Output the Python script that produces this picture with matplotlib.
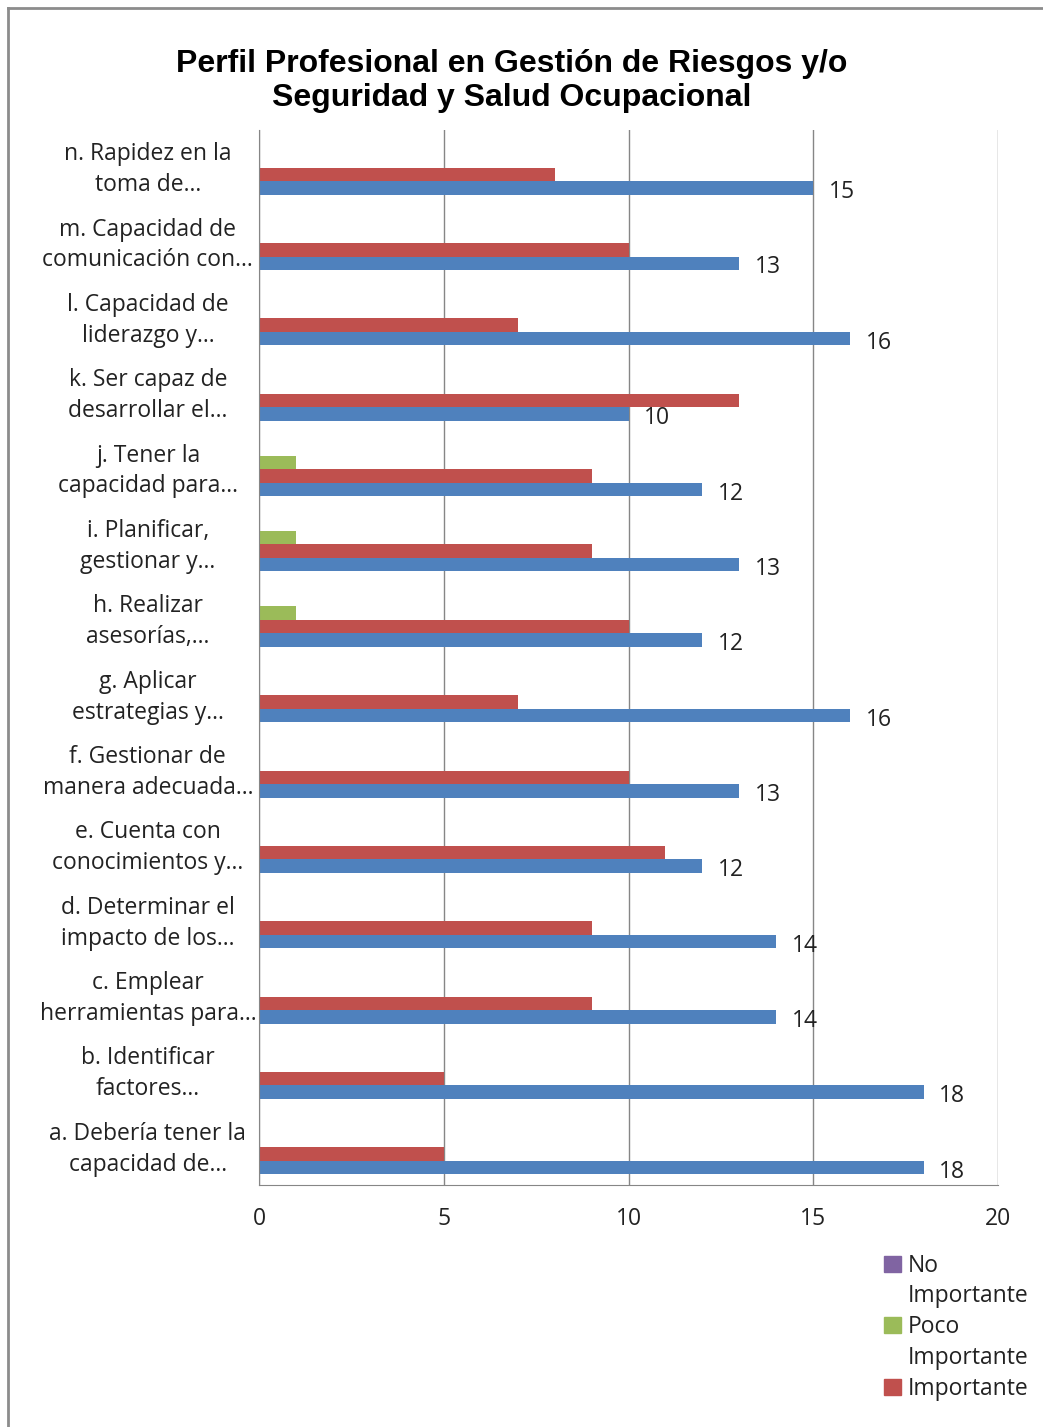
import matplotlib
matplotlib.use("Agg")
import matplotlib.pyplot as plt
import matplotlib.transforms as mtransforms
import numpy as np
from matplotlib.patches import Patch
from matplotlib.lines import Line2D

# categories from bottom (a) to top (n)
categorias = [
    "a. Debería tener la\ncapacidad de...",
    "b. Identificar\nfactores...",
    "c. Emplear\nherramientas para...",
    "d. Determinar el\nimpacto de los...",
    "e. Cuenta con\nconocimientos y...",
    "f. Gestionar de\nmanera adecuada...",
    "g. Aplicar\nestrategias y...",
    "h. Realizar\nasesorías,...",
    "i. Planificar,\ngestionar y...",
    "j. Tener la\ncapacidad para...",
    "k. Ser capaz de\ndesarrollar el...",
    "l. Capacidad de\nliderazgo y...",
    "m. Capacidad de\ncomunicación con...",
    "n. Rapidez en la\ntoma de...",
]
muy_importante = [18, 18, 14, 14, 12, 13, 16, 12, 13, 12, 10, 16, 13, 15]
importante = [5, 5, 9, 9, 11, 10, 7, 10, 9, 9, 13, 7, 10, 8]
poco_importante = [0, 0, 0, 0, 0, 0, 0, 1, 1, 1, 0, 0, 0, 0]
no_importante = [0] * 14

azul = "#4F81BD"
rojo = "#C0504D"
verde = "#9BBB59"
morado = "#8064A2"
gris = "#868686"
fuente = "Open Sans"
tam = 16.5

fig = plt.figure(figsize=(10.43, 14.27), dpi=100)
ax = fig.add_axes([0.2483, 0.1696, 0.7086, 0.7393])

y = np.arange(len(categorias))
h = 0.179
b_azul = ax.barh(y - 1.5 * h, muy_importante, h, color=azul)
ax.barh(y - 0.5 * h, importante, h, color=rojo)
ax.barh(y + 0.5 * h, poco_importante, h, color=verde)
ax.barh(y + 1.5 * h, no_importante, h, color=morado)

etiquetas = ax.bar_label(b_azul, padding=11, fontsize=tam, family=fuente, color="#222222")
for t in etiquetas:
    t.xyann = (t.xyann[0], -3)  # a bit below the bar centre, like Excel

ax.set_xlim(0, 20)
ax.set_ylim(-0.5, len(categorias) - 0.5)
ax.set_xticks([0, 5, 10, 15, 20])
ax.set_yticks(y)
ax.set_yticklabels(categorias, ha="center", multialignment="center",
                   fontsize=tam, family=fuente, linespacing=1.38, color="#222222")
ax.tick_params(axis="y", length=0, pad=80)
ax.tick_params(axis="x", length=0, pad=16, labelsize=tam, labelcolor="#222222")
for t in ax.get_xticklabels():
    t.set_family(fuente)
arriba = mtransforms.ScaledTranslation(0, 0.045, fig.dpi_scale_trans)
for t in ax.get_yticklabels():
    t.set_transform(t.get_transform() + arriba)
ax.xaxis.grid(True, color=gris, linewidth=1)
ax.set_axisbelow(True)
for s in ["top", "right"]:
    ax.spines[s].set_visible(False)
for s in ["left", "bottom"]:
    ax.spines[s].set_color(gris)

fig.text(0.491, 0.9435, "Perfil Profesional en Gestión de Riesgos y/o\nSeguridad y Salud Ocupacional",
         ha="center", va="center", fontsize=23, fontweight="bold",
         family="Liberation Sans", linespacing=1.17)

# legend (first series is cut off in the original)
vacio = Line2D([], [], linestyle="none")
handles = [Patch(color=morado), vacio, Patch(color=verde), vacio, Patch(color=rojo)]
labels = ["No", "Importante", "Poco", "Importante", "Importante"]
leg = fig.legend(handles, labels, loc="upper left", bbox_to_anchor=(0.848, 0.1215),
                 frameon=False, prop={"family": fuente, "size": tam},
                 handlelength=0.7, handleheight=0.7, handletextpad=0.3,
                 labelspacing=0.3, borderaxespad=0, borderpad=0)
for t in leg.get_texts():
    t.set_color("#222222")

# outer chart border
fig.add_artist(Line2D([0.0077, 0.0077], [0, 0.9944], color="#8c8c8c", linewidth=2))
fig.add_artist(Line2D([0.0077, 1], [0.9944, 0.9944], color="#8c8c8c", linewidth=2))

fig.savefig("out.png", dpi=100)
